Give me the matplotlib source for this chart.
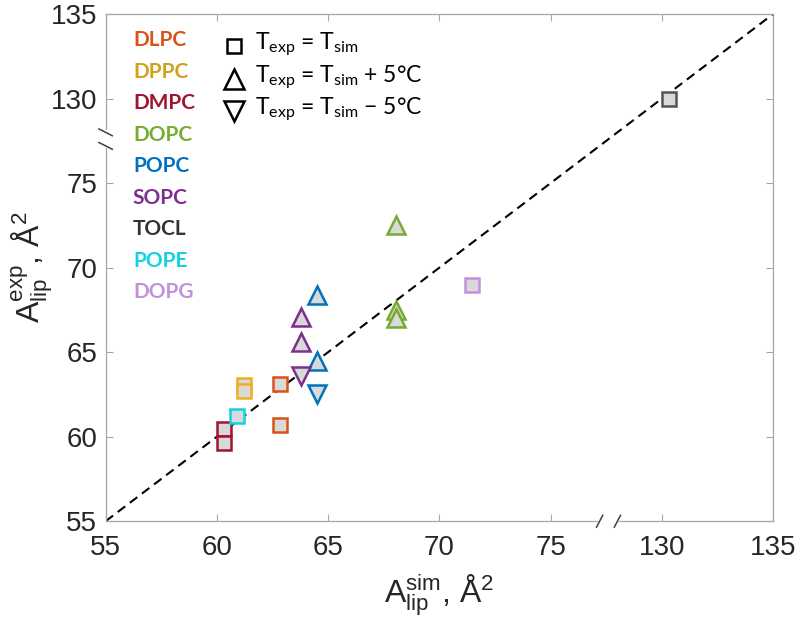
#!/usr/bin/env python3
"""Experimental vs simulated area per lipid, with broken axes at 75/130."""

import matplotlib

matplotlib.use("Agg")
import matplotlib.pyplot as plt
from matplotlib import font_manager
from matplotlib.font_manager import FontProperties


def pick_font(*names: str) -> str:
    for name in names:
        try:
            font_manager.findfont(FontProperties(family=name), fallback_to_default=False)
            return name
        except ValueError:
            pass
    return "DejaVu Sans"


AXIS_FONT = pick_font("Liberation Sans Narrow", "Liberation Sans")
NAME_FONT = pick_font("Lato", "Open Sans")

# lipid names and colours (legend text and marker edges)
lipids = ["DLPC", "DPPC", "DMPC", "DOPC", "POPC", "SOPC", "TOCL", "POPE", "DOPG"]
lipid_colors = ["#D95319", "#EDB120", "#A2142F", "#77AC30", "#0072BD",
                "#7E2F8E", "#555555", "#12D0E6", "#C291DB"]
name_colors = ["#D95319", "#CFA21B", "#A2142F", "#77AC30", "#0072BD",
               "#7E2F8E", "#333333", "#12D0E6", "#C291DB"]

# T_exp = T_sim  (squares)
sq_lipid = ["DLPC", "DLPC", "DPPC", "DPPC", "DMPC", "DMPC", "TOCL", "POPE", "DOPG"]
sq_sim = [62.85, 62.85, 61.2, 61.2, 60.3, 60.3, 130.3, 60.9, 71.45]
sq_exp = [63.1, 60.7, 63.05, 62.7, 60.45, 59.65, 130.0, 61.2, 69.0]

# T_exp = T_sim + 5 C  (upward triangles)
up_lipid = ["DOPC", "DOPC", "DOPC", "POPC", "POPC", "SOPC", "SOPC"]
up_sim = [68.05, 68.05, 68.05, 64.5, 64.5, 63.8, 63.8]
up_exp = [72.5, 67.5, 67.0, 68.4, 64.5, 67.1, 65.6]

# T_exp = T_sim - 5 C  (downward triangles)
dn_lipid = ["POPC", "SOPC"]
dn_sim = [64.5, 63.8]
dn_exp = [62.5, 63.6]

tick_vals = [55, 60, 65, 70, 75, 130, 135]
BREAK_LO, BREAK_HI = 77.2, 78.0


def squash(v: float) -> float:
    # values above the break are shifted so that 130 sits where 80 would be
    return v if v < 100 else v - 50.0


plt.rcParams["mathtext.default"] = "regular"

fig = plt.figure(figsize=(8.0, 6.22), dpi=100)
ax = fig.add_axes([0.132, 0.162, 0.8345, 0.8155])

ax.plot([55, 85], [55, 85], linestyle=(0, (4.5, 2.8)), color="black", linewidth=1.5, zorder=2)

color_of = dict(zip(lipids, lipid_colors))
for names, xs, ys, marker, ms in [
    (sq_lipid, sq_sim, sq_exp, "s", 10.5),
    (up_lipid, up_sim, up_exp, "^", 13),
    (dn_lipid, dn_sim, dn_exp, "v", 13),
]:
    for name, x, y in zip(names, xs, ys):
        ax.plot(squash(x), squash(y), marker=marker, markersize=ms,
                markerfacecolor="#D9D9D9", markeredgecolor=color_of[name],
                markeredgewidth=1.8, linestyle="none", zorder=3)

ax.set_xlim(55, 85)
ax.set_ylim(55, 85)
tick_pos = [squash(v) for v in tick_vals]
ax.set_xticks(tick_pos)
ax.set_yticks(tick_pos)
ax.set_xticklabels([str(v) for v in tick_vals])
ax.set_yticklabels([str(v) for v in tick_vals])
ax.tick_params(direction="in", length=5, width=0.8, color="#A6A6A6",
               top=True, right=True, labelsize=20, labelcolor="#262626")
ax.tick_params(axis="x", pad=10)
ax.tick_params(axis="y", pad=6)
for lab in ax.get_xticklabels() + ax.get_yticklabels():
    lab.set_fontfamily(AXIS_FONT)
for sp in ax.spines.values():
    sp.set_color("#A6A6A6")
    sp.set_linewidth(0.9)

ax.set_xlabel("A$_{lip}^{sim}$, Å$^{2}$", fontsize=23, family=AXIS_FONT,
              color="#262626", labelpad=8)
ax.set_ylabel("A$_{lip}^{exp}$, Å$^{2}$", fontsize=23, family=AXIS_FONT,
              color="#262626", labelpad=-4)

# axis break marks: white gap in the spine plus two slashes
ax.plot([BREAK_LO, BREAK_HI], [55, 55], color="white", linewidth=3, clip_on=False, zorder=5)
ax.plot([55, 55], [BREAK_LO, BREAK_HI], color="white", linewidth=3, clip_on=False, zorder=5)
for b in (BREAK_LO, BREAK_HI):
    ax.plot([b - 0.14, b + 0.14], [54.65, 55.35], color="#404040", linewidth=1.1,
            clip_on=False, zorder=6)
    ax.plot([54.7, 55.3], [b + 0.2, b - 0.2], color="#404040", linewidth=1.1,
            clip_on=False, zorder=6)

# lipid name legend
for i, (name, col) in enumerate(zip(lipids, name_colors)):
    ax.text(0.041, 0.9487 - i * 0.0622, name, transform=ax.transAxes, color=col,
            fontsize=15, fontweight="bold", family=NAME_FONT, ha="left", va="center")

# temperature legend
legend_rows = [
    ("s", 10.5, "T$_{exp}$ = T$_{sim}$"),
    ("^", 15, "T$_{exp}$ = T$_{sim}$ + 5°C"),
    ("v", 15, "T$_{exp}$ = T$_{sim}$ \u2212 5°C"),
]
for i, (marker, ms, label) in enumerate(legend_rows):
    yy = 0.936 - i * 0.0635
    ax.plot(0.1925, yy, marker=marker, markersize=ms, markerfacecolor="none",
            markeredgecolor="black", markeredgewidth=1.8, transform=ax.transAxes,
            clip_on=False, linestyle="none")
    ax.text(0.2235, yy + 0.004, label, transform=ax.transAxes, fontsize=16.5,
            family=NAME_FONT, color="black", ha="left", va="center")

fig.savefig("out.png", dpi=100)
